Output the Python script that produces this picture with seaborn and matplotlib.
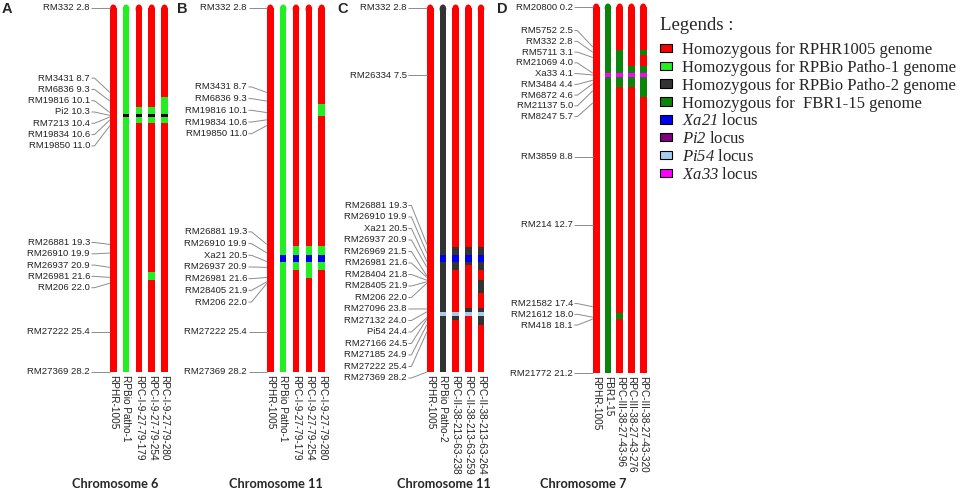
import matplotlib
matplotlib.use("Agg")
import matplotlib.pyplot as plt
import seaborn as sns
import numpy as np
from matplotlib.patches import Ellipse, Patch

# ---------------- data ----------------
# Panel A - chromosome 6
A_markers = ["RM332", "RM3431", "RM6836", "RM19816", "Pi2", "RM7213", "RM19834", "RM19850",
             "RM26881", "RM26910", "RM26937", "RM26981", "RM206", "RM27222", "RM27369"]
A_pos = [2.8, 8.7, 9.3, 10.1, 10.3, 10.4, 10.6, 11.0, 19.3, 19.9, 20.9, 21.6, 22.0, 25.4, 28.2]
A_lines = ["RPHR-1005", "RPBio Patho-1", "RPC-I-9-27-79-179", "RPC-I-9-27-79-254", "RPC-I-9-27-79-280"]
A_base = ["RPHR1005", "Patho1", "RPHR1005", "RPHR1005", "RPHR1005"]
A_seg_line = [1, 2, 2, 3, 3, 3, 4, 4]
A_seg_start = [10.2, 9.7, 10.2, 9.7, 10.2, 21.25, 9.0, 10.2]
A_seg_end = [10.4, 10.85, 10.4, 10.85, 10.4, 21.8, 10.85, 10.4]
A_seg_geno = ["Pi2", "Patho1", "Pi2", "Patho1", "Pi2", "Patho1", "Patho1", "Pi2"]

# Panel B - chromosome 11
B_markers = ["RM332", "RM3431", "RM6836", "RM19816", "RM19834", "RM19850", "RM26881", "RM26910",
             "Xa21", "RM26937", "RM26981", "RM28405", "RM206", "RM27222", "RM27369"]
B_pos = [2.8, 8.7, 9.3, 10.1, 10.6, 11.0, 19.3, 19.9, 20.5, 20.9, 21.6, 21.9, 22.0, 25.4, 28.2]
B_lines = ["RPHR-1005", "RPBio Patho-1", "RPC-I-9-27-79-179", "RPC-I-9-27-79-254", "RPC-I-9-27-79-280"]
B_base = ["RPHR1005", "Patho1", "RPHR1005", "RPHR1005", "RPHR1005"]
B_seg_line = [1, 2, 2, 3, 3, 4, 4, 4]
B_seg_start = [20.05, 19.4, 20.05, 19.4, 20.05, 9.52, 19.4, 20.05]
B_seg_end = [20.5, 21.08, 20.5, 21.66, 20.5, 10.32, 21.08, 20.5]
B_seg_geno = ["Xa21", "Patho1", "Xa21", "Patho1", "Xa21", "Patho1", "Patho1", "Xa21"]

# Panel C - chromosome 11
C_markers = ["RM332", "RM26334", "RM26881", "RM26910", "Xa21", "RM26937", "RM26969", "RM26981",
             "RM28404", "RM28405", "RM206", "RM27096", "RM27132", "Pi54", "RM27166", "RM27185",
             "RM27222", "RM27369"]
C_pos = [2.8, 7.5, 19.3, 19.9, 20.5, 20.9, 21.5, 21.6, 21.8, 21.9, 22.0, 23.8, 24.0, 24.4, 24.5,
         24.9, 25.4, 28.2]
C_lines = ["RPHR-1005", "RPBio Patho-2", "RPC-II-38-213-63-238", "RPC-II-38-213-63-259",
           "RPC-II-38-213-63-264"]
C_base = ["RPHR1005", "Patho2", "RPHR1005", "RPHR1005", "RPHR1005"]
C_seg_line = [1, 1, 2, 2, 2, 2, 3, 3, 3, 3, 4, 4, 4, 4, 4]
C_seg_start = [20.05, 24.0, 19.48, 20.05, 24.3, 24.0, 19.48, 20.05, 23.75, 24.0,
               19.48, 20.05, 21.78, 23.75, 24.0]
C_seg_end = [20.55, 24.3, 21.08, 20.55, 24.6, 24.3, 20.7, 20.55, 24.0, 24.3,
             21.08, 20.55, 22.69, 24.92, 24.3]
C_seg_geno = ["Xa21", "Pi54", "Patho2", "Xa21", "Patho2", "Pi54", "Patho2", "Xa21", "Patho2", "Pi54",
              "Patho2", "Xa21", "Patho2", "Patho2", "Pi54"]

# Panel D - chromosome 7
D_markers = ["RM20800", "RM5752", "RM332", "RM5711", "RM21069", "Xa33", "RM3484", "RM6872",
             "RM21137", "RM8247", "RM3859", "RM214", "RM21582", "RM21612", "RM418", "RM21772"]
D_pos = [0.2, 2.5, 2.8, 3.1, 4.0, 4.1, 4.4, 4.6, 5.0, 5.7, 8.8, 12.7, 17.4, 18.0, 18.1, 21.2]
D_lines = ["RPHR-1005", "FBR1-15", "RPC-III-38-27-43-96", "RPC-III-38-27-43-276", "RPC-III-38-27-43-320"]
D_base = ["RPHR1005", "FBR", "RPHR1005", "RPHR1005", "RPHR1005"]
D_seg_line = [1, 2, 2, 2, 3, 3, 4, 4, 4]
D_seg_start = [4.0, 2.68, 4.0, 17.75, 3.58, 4.0, 2.68, 3.58, 4.0]
D_seg_end = [4.2, 4.8, 4.2, 18.1, 4.8, 4.2, 2.95, 5.35, 4.2]
D_seg_geno = ["Xa33", "FBR", "Xa33", "FBR", "FBR", "Xa33", "FBR", "FBR", "Xa33"]

panel_titles = ["Chromosome 6", "Chromosome 11", "Chromosome 11", "Chromosome 7"]
panel_letters = ["A", "B", "C", "D"]

legend_title = "Legends :"
legend_keys = ["RPHR1005", "Patho1", "Patho2", "FBR", "Xa21", "Pi2", "Pi54", "Xa33"]
legend_labels = ["Homozygous for RPHR1005 genome", "Homozygous for RPBio Patho-1 genome",
                 "Homozygous for RPBio Patho-2 genome", "Homozygous for  FBR1-15 genome",
                 r"$\mathrm{Xa21}$ locus", r"$\mathrm{Pi2}$ locus", r"$\mathrm{Pi54}$ locus",
                 r"$\mathrm{Xa33}$ locus"]

# ---------------- style ----------------
sns.set_style("white")
plt.rcParams["font.family"] = ["Liberation Sans", "DejaVu Sans"]
plt.rcParams["mathtext.fontset"] = "custom"
plt.rcParams["mathtext.rm"] = "Liberation Serif:italic"
plt.rcParams["mathtext.it"] = "Liberation Serif:italic"

palette = {"RPHR1005": "#FF0000", "Patho1": "#22EE22", "Patho2": "#333333", "FBR": "#0B840B",
           "Xa21": "#0000EE", "Pi2": "#800080", "Pi54": "#A8CCF0", "Xa33": "#FF00FF"}
bar_palette = dict(palette, Pi2="#150015")

W, H = 964, 493
fig = plt.figure(figsize=(W / 100, H / 100), dpi=100)
fig.patch.set_facecolor("white")

panels = [
    dict(markers=A_markers, pos=A_pos, lines=A_lines, base=A_base, sl=A_seg_line, ss=A_seg_start,
         se=A_seg_end, sg=A_seg_geno, x0=113.3, dx=12.8, ytop=8, ybot=372, gap=11.3,
         title_x=115, letter_x=2),
    dict(markers=B_markers, pos=B_pos, lines=B_lines, base=B_base, sl=B_seg_line, ss=B_seg_start,
         se=B_seg_end, sg=B_seg_geno, x0=270.3, dx=12.85, ytop=8, ybot=372, gap=11.7,
         title_x=276, letter_x=177),
    dict(markers=C_markers, pos=C_pos, lines=C_lines, base=C_base, sl=C_seg_line, ss=C_seg_start,
         se=C_seg_end, sg=C_seg_geno, x0=430.2, dx=12.7, ytop=8, ybot=372, gap=11.5,
         title_x=444, letter_x=337),
    dict(markers=D_markers, pos=D_pos, lines=D_lines, base=D_base, sl=D_seg_line, ss=D_seg_start,
         se=D_seg_end, sg=D_seg_geno, x0=596.2, dx=11.75, ytop=7, ybot=373, gap=10.75,
         title_x=583, letter_x=497),
]


def spread(desired, gap, lo, hi):
    def place(c):
        s = np.mean(c) - (len(c) - 1) / 2 * gap
        return min(max(s, lo), hi - (len(c) - 1) * gap)

    clusters = [[d] for d in desired]
    changed = True
    while changed:
        changed = False
        merged = []
        for c in clusters:
            if merged:
                prev = merged[-1]
                if place(c) < place(prev) + len(prev) * gap - 1e-9:
                    merged[-1] = prev + c
                    changed = True
                    continue
            merged.append(c)
        clusters = merged
    out = []
    for c in clusters:
        s = place(c)
        out += [s + k * gap for k in range(len(c))]
    return out


bar_px = 6.6
for p, title, letter in zip(panels, panel_titles, panel_letters):
    n = len(p["lines"])
    top, bot = p["pos"][0], p["pos"][-1]
    left = p["x0"] - 0.5 * p["dx"]
    ax = fig.add_axes([left / W, (H - p["ybot"]) / H, n * p["dx"] / W, (p["ybot"] - p["ytop"]) / H])
    ax.set_xlim(-0.5, n - 0.5)
    ax.set_ylim(bot, top)
    ax.axis("off")
    ppc = (p["ybot"] - p["ytop"]) / (bot - top)
    w = bar_px / p["dx"]

    # chromosome bars (background genotype)
    ax.bar(range(n), [bot - top] * n, bottom=top, width=w,
           color=[bar_palette[g] for g in p["base"]], linewidth=0)
    for i, g in enumerate(p["base"]):
        ax.add_patch(Ellipse((i, top + 1.0 / ppc), w, 9.0 / ppc, color=bar_palette[g],
                             linewidth=0, clip_on=False))
    # introgressed segments and loci
    ax.bar(p["sl"], np.array(p["se"]) - np.array(p["ss"]), bottom=p["ss"], width=w,
           color=[bar_palette[g] for g in p["sg"]], linewidth=0)

    # marker labels with connectors
    desired_px = [p["ytop"] + (v - top) * ppc for v in p["pos"]]
    lab_px = spread(desired_px, p["gap"], p["ytop"], p["ybot"] + 6)
    lab_cm = [top + (y - p["ytop"]) / ppc for y in lab_px]
    bar_left = -w / 2
    tx = bar_left - 20.0 / p["dx"]
    for name, v, ly in zip(p["markers"], p["pos"], lab_cm):
        ax.text(tx, ly, f"{name} {v:.1f}", ha="right", va="center", fontsize=6.8,
                color="#222222", clip_on=False)
        ax.plot([tx + 1.5 / p["dx"], tx + 4.5 / p["dx"], bar_left], [ly, ly, v],
                color="#8c8c8c", lw=0.7, clip_on=False, solid_capstyle="butt")

    # line names
    for i, nm in enumerate(p["lines"]):
        ax.text(i, bot + 3.0 / ppc, nm, rotation=-90, ha="center", va="top", fontsize=7.2,
                color="#222222", clip_on=False)

    fig.text(p["title_x"] / W, 1 - 484 / H, title, ha="center", va="center", fontsize=9.2,
             fontweight="bold", family=["Lato", "DejaVu Sans"])
    fig.text(p["letter_x"] / W, 1 - 2 / H, letter, ha="left", va="top", fontsize=10.5,
             fontweight="bold")

fig.text(660 / W, 1 - 26 / H, legend_title, ha="left", va="center", fontsize=13.5,
         family="Liberation Serif")
handles = [Patch(facecolor=palette[k], edgecolor="black", linewidth=0.8) for k in legend_keys]
leg = fig.legend(handles, legend_labels, loc="upper left", bbox_to_anchor=(660 / W, 1 - 42 / H),
                 frameon=False, borderpad=0, handlelength=0.7, handleheight=0.4,
                 handletextpad=0.62, labelspacing=0.11, borderaxespad=0,
                 prop={"family": "Liberation Serif", "size": 12})

fig.savefig("out.png", dpi=100, facecolor="white")
